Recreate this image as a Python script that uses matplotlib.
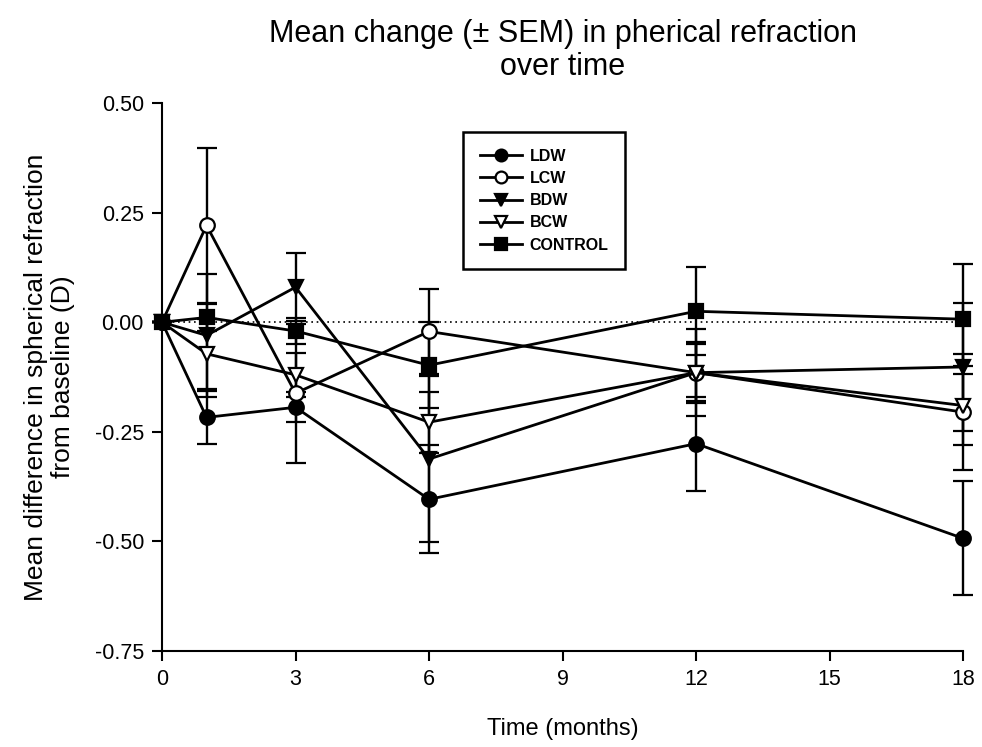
import numpy as np
import matplotlib

matplotlib.use("Agg")

import matplotlib.pyplot as plt

plt.rcParams["font.family"] = ["Liberation Sans", "DejaVu Sans"]

# Data (mean change and SEM, dioptres)
months = [0, 1, 3, 6, 12, 18]

ldw = [0.0, -0.217, -0.194, -0.404, -0.277, -0.493]
ldw_sem = [0.0, 0.060, 0.034, 0.123, 0.107, 0.130]

lcw = [0.0, 0.221, -0.162, -0.021, -0.115, -0.205]
lcw_sem = [0.0, 0.176, 0.158, 0.096, 0.100, 0.133]

bdw = [0.0, -0.030, 0.080, -0.312, -0.115, -0.102]
bdw_sem = [0.0, 0.140, 0.077, 0.190, 0.065, 0.145]

bcw = [0.0, -0.072, -0.120, -0.228, -0.115, -0.190]
bcw_sem = [0.0, 0.080, 0.050, 0.070, 0.070, 0.090]

control = [0.0, 0.011, -0.020, -0.098, 0.025, 0.007]
control_sem = [0.0, 0.030, 0.030, 0.098, 0.100, 0.125]

labels = ["LDW", "LCW", "BDW", "BCW", "CONTROL"]
x_ticks = [0, 3, 6, 9, 12, 15, 18]
y_ticks = [-0.75, -0.50, -0.25, 0.00, 0.25, 0.50]

series = [
    (ldw, ldw_sem, "o", "black"),
    (lcw, lcw_sem, "o", "white"),
    (bdw, bdw_sem, "v", "black"),
    (bcw, bcw_sem, "v", "white"),
    (control, control_sem, "s", "black"),
]

fig = plt.figure(figsize=(9.82, 7.47), dpi=100)
ax = fig.add_axes([0.165, 0.1285, 0.8157, 0.7335])

# zero reference line
ax.plot([0, 18], [0, 0], color="black", lw=1.2, ls=(0, (1, 2.2)), zorder=1)

for (vals, sem, mk, face), lab in zip(series, labels):
    ax.errorbar(months, vals, yerr=sem, color="black", lw=2.0,
                marker=mk, markersize=10.5 if mk != "s" else 9.5,
                markerfacecolor=face, markeredgecolor="black",
                markeredgewidth=1.6, capsize=7, capthick=1.7,
                elinewidth=1.7, label=lab, clip_on=False, zorder=3)

ax.set_xlim(0, 18)
ax.set_ylim(-0.75, 0.50)
ax.set_xticks(x_ticks)
ax.set_yticks(y_ticks)
ax.set_yticklabels([f"{v:.2f}" for v in y_ticks])
ax.tick_params(direction="out", length=7, width=1.5, labelsize=15.5, pad=6)

for side in ["top", "right"]:
    ax.spines[side].set_visible(False)
for side in ["left", "bottom"]:
    ax.spines[side].set_linewidth(1.5)

ax.set_xlabel("Time (months)", fontsize=17, labelpad=20)
ax.set_ylabel("Mean difference in spherical refraction\nfrom baseline (D)",
              fontsize=19, labelpad=14, linespacing=1.15)
ax.set_title("Mean change (\u00b1 SEM) in pherical refraction\nover time",
             fontsize=22, pad=20, linespacing=1.15)

handles, leg_labels = ax.get_legend_handles_labels()
handles = [h[0] for h in handles]
leg = ax.legend(handles, leg_labels, loc="upper left",
                bbox_to_anchor=(0.376, 0.947), borderaxespad=0,
                fancybox=False, edgecolor="black", framealpha=1,
                handlelength=2.6, handletextpad=0.5, borderpad=1.05,
                labelspacing=0.45, prop={"weight": "bold", "size": 11.5})
leg.get_frame().set_linewidth(1.8)
for h in leg.legend_handles:
    h.set_markersize(8.5)

fig.savefig("out.png", dpi=100, facecolor="white")
